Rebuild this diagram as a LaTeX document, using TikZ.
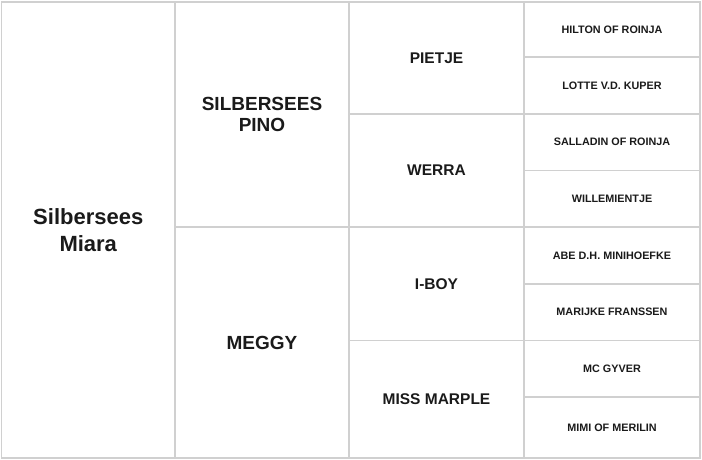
\documentclass[tikz,border=0pt]{standalone}
\usepackage{fontspec}
\setmainfont{Liberation Sans}
\definecolor{gridgray}{HTML}{D0D0D0}
\definecolor{txt}{HTML}{1A1A1A}
\begin{document}
\begin{tikzpicture}[x=1pt,y=1pt,
  cell/.style={draw=gridgray, line width=1.3pt, rectangle, inner sep=0pt, align=center, text=txt, font=\bfseries},
  big/.style={cell, font=\fontsize{22}{27}\selectfont\bfseries},
  mid/.style={cell, font=\fontsize{19}{21}\selectfont\bfseries},
  gen3/.style={cell, font=\fontsize{15.5}{18}\selectfont\bfseries},
  gen4/.style={cell, font=\fontsize{10.8}{13}\selectfont\bfseries}
]
\useasboundingbox (0,0) rectangle (702,-460);
% column 1
\node[big, minimum width=173.5pt, minimum height=456pt] (c1) at (88.25,-230) {Silbersees\\Miara};
% column 2
\node[mid, minimum width=174pt, minimum height=225pt] (c2a) at (262,-114.5) {SILBERSEES\\PINO};
\node[mid, minimum width=174pt, minimum height=231pt] (c2b) at (262,-342.5) {MEGGY};
% column 3
\node[gen3, minimum width=175pt, minimum height=112pt] (c3a) at (436.5,-58) {PIETJE};
\node[gen3, minimum width=175pt, minimum height=113pt] (c3b) at (436.5,-170.5) {WERRA};
\node[gen3, minimum width=175pt, minimum height=113.5pt] (c3c) at (436.5,-283.75) {I-BOY};
\node[gen3, minimum width=175pt, minimum height=117.5pt] (c3d) at (436.5,-399.25) {MISS MARPLE};
% column 4
\node[gen4, minimum width=176pt, minimum height=55pt] (c4a) at (612,-29.5) {HILTON OF ROINJA};
\node[gen4, minimum width=176pt, minimum height=57pt] (c4b) at (612,-85.5) {LOTTE V.D. KUPER};
\node[gen4, minimum width=176pt, minimum height=56.5pt] (c4c) at (612,-142.25) {SALLADIN OF ROINJA};
\node[gen4, minimum width=176pt, minimum height=56.5pt] (c4d) at (612,-198.75) {WILLEMIENTJE};
\node[gen4, minimum width=176pt, minimum height=57pt] (c4e) at (612,-255.5) {ABE D.H. MINIHOEFKE};
\node[gen4, minimum width=176pt, minimum height=56.5pt] (c4f) at (612,-312.25) {MARIJKE FRANSSEN};
\node[gen4, minimum width=176pt, minimum height=56.5pt] (c4g) at (612,-368.75) {MC GYVER};
\node[gen4, minimum width=176pt, minimum height=61pt] (c4h) at (612,-427.5) {MIMI OF MERILIN};
\end{tikzpicture}
\end{document}
